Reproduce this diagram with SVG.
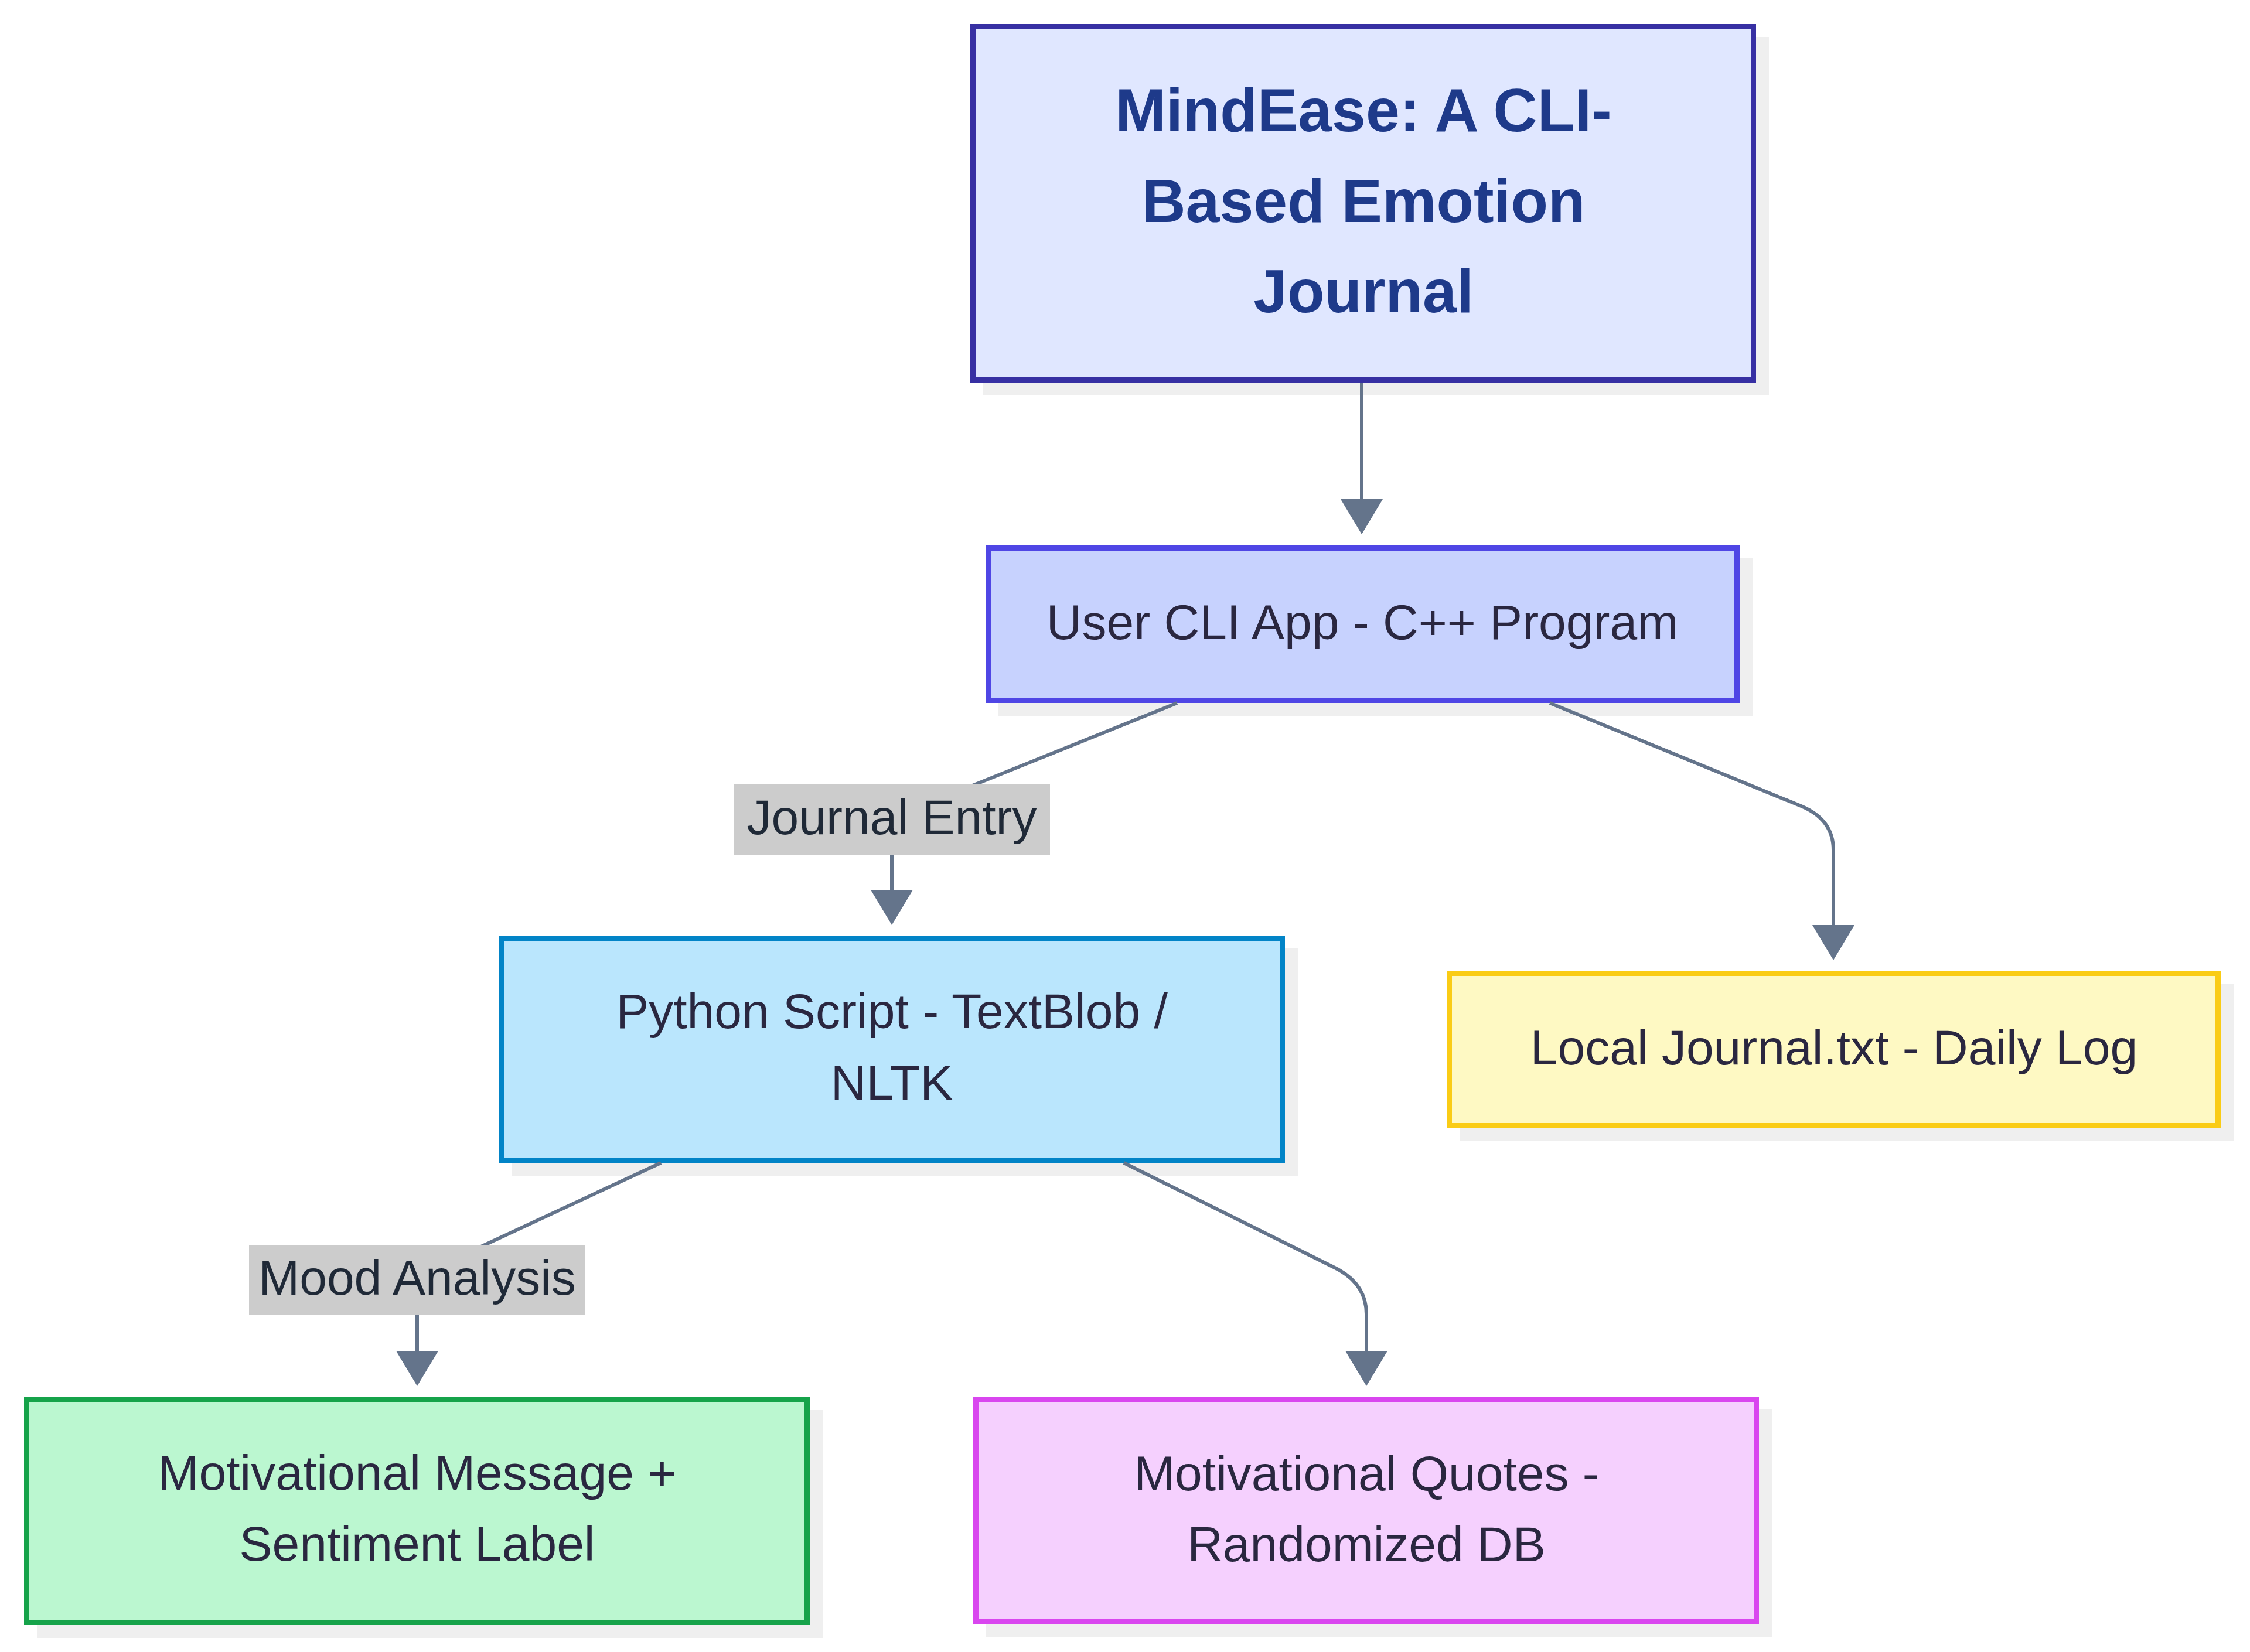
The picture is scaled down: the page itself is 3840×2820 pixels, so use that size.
<svg xmlns="http://www.w3.org/2000/svg" width="3840" height="2820" viewBox="0 0 3840 2820">
<defs>
<style>
.shadow{fill:#efefef;}
.node{stroke-width:9;}
.t{font-family:"Liberation Sans",Arial,sans-serif;font-size:84px;fill:#2a2740;text-anchor:middle;}
.title{font-family:"Liberation Sans",Arial,sans-serif;font-size:104px;font-weight:bold;fill:#1e3a8a;text-anchor:middle;}
.edge{fill:none;stroke:#64748b;stroke-width:6;}
.lblbg{fill:#cccccc;}
.lbl{font-family:"Liberation Sans",Arial,sans-serif;font-size:84px;fill:#1f2937;text-anchor:middle;}
</style>
<marker id="arrow" markerUnits="userSpaceOnUse" viewBox="0 0 60 72" refX="0" refY="36" markerWidth="60" markerHeight="72" orient="auto">
<path d="M0,0 L60,36 L0,72 z" fill="#64748b"/>
</marker>
</defs>
<rect width="3840" height="2820" fill="#ffffff"/>

<g id="node-title">
<rect class="shadow" x="1678" y="63" width="1341" height="612"/>
<rect class="node" x="1660.5" y="45.5" width="1332" height="603" fill="#e0e7ff" stroke="#3730a3"/>
<text class="title" x="2327" y="224">MindEase: A CLI-</text>
<text class="title" x="2327" y="379">Based Emotion</text>
<text class="title" x="2327" y="533">Journal</text>
</g>

<g id="node-cli">
<rect class="shadow" x="1704" y="953" width="1287" height="269"/>
<rect class="node" x="1686.5" y="935.5" width="1278" height="260" fill="#c7d2fe" stroke="#4f46e5"/>
<text class="t" x="2325" y="1091">User CLI App - C++ Program</text>
</g>

<g id="node-python">
<rect class="shadow" x="874" y="1619" width="1341" height="389"/>
<rect class="node" x="856.5" y="1601.5" width="1332" height="380" fill="#bae6fd" stroke="#0284c7"/>
<text class="t" x="1522" y="1755">Python Script - TextBlob /</text>
<text class="t" x="1522" y="1877">NLTK</text>
</g>

<g id="node-local-journal">
<rect class="shadow" x="2491" y="1679" width="1321" height="269"/>
<rect class="node" x="2473.5" y="1661.5" width="1312" height="260" fill="#fef9c3" stroke="#facc15"/>
<text class="t" x="3130" y="1817">Local Journal.txt - Daily Log</text>
</g>

<g id="node-message">
<rect class="shadow" x="63" y="2407" width="1341" height="389"/>
<rect class="node" x="45.5" y="2389.5" width="1332" height="380" fill="#bbf7d0" stroke="#16a34a"/>
<text class="t" x="712" y="2543">Motivational Message +</text>
<text class="t" x="712" y="2664">Sentiment Label</text>
</g>

<g id="node-quotes">
<rect class="shadow" x="1683" y="2406" width="1341" height="389"/>
<rect class="node" x="1665.5" y="2388.5" width="1332" height="380" fill="#f5d0fe" stroke="#d946ef"/>
<text class="t" x="2332" y="2544">Motivational Quotes -</text>
<text class="t" x="2332" y="2665">Randomized DB</text>
</g>

<g id="edges">
<path class="edge" d="M2324,653 L2324,852" marker-end="url(#arrow)"/>
<path class="edge" d="M2009,1200 L1600,1365 Q1522,1397 1522,1450 L1522,1519" marker-end="url(#arrow)"/>
<path class="edge" d="M2645,1200 L3074,1376 Q3129,1399 3129,1451 L3129,1579" marker-end="url(#arrow)"/>
<path class="edge" d="M1128,1985 L780,2147 Q712,2179 712,2230 L712,2306" marker-end="url(#arrow)"/>
<path class="edge" d="M1918,1985 L2278,2164 Q2332,2191 2332,2243 L2332,2306" marker-end="url(#arrow)"/>
</g>

<g id="edge-labels">
<g id="label-journal-entry">
<rect class="lblbg" x="1253" y="1338" width="539" height="121"/>
<text class="lbl" x="1522" y="1424">Journal Entry</text>
</g>
<g id="label-mood-analysis">
<rect class="lblbg" x="425" y="2125" width="574" height="120"/>
<text class="lbl" x="712" y="2210">Mood Analysis</text>
</g>
</g>
</svg>
